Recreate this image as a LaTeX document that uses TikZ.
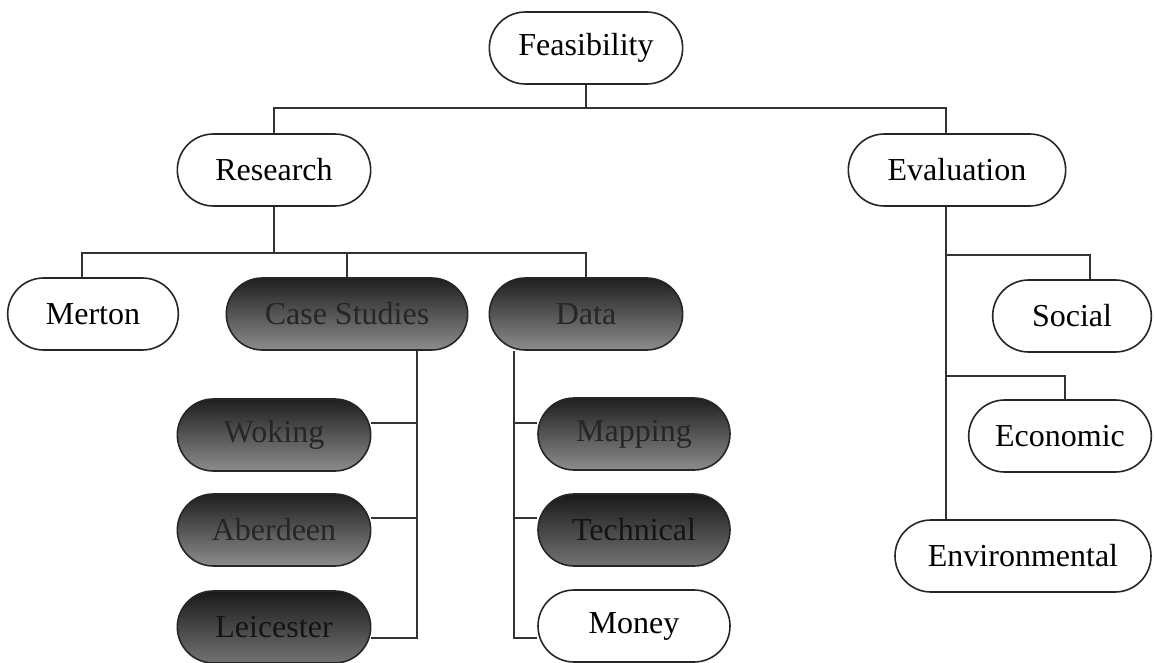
\documentclass[tikz,border=0pt]{standalone}
\usepackage{fontspec}
\setmainfont{Liberation Serif}
\begin{document}
\begin{tikzpicture}[x=0.75pt,y=-0.75pt,
  wire/.style={draw=black!80,line width=1.3pt},
  pill/.style={draw=black!85,line width=1.2pt,rounded corners=27pt,minimum height=54pt,
    inner sep=0pt,font=\fontsize{24}{28}\selectfont,fill=white},
  darkpill/.style={pill,top color=black!88,middle color=black!72,bottom color=black!45,text=black!85},
  darkerpill/.style={pill,top color=black!90,middle color=black!78,bottom color=black!55,text=black!92}]
\useasboundingbox (0,0) rectangle (1154,663);

% nodes
\node[pill,minimum width=145pt] (feas) at (586,48) {Feasibility};
\node[pill,minimum width=145pt] (res) at (274,170) {Research};
\node[pill,minimum width=163pt] (eval) at (957,170) {Evaluation};
\node[pill,minimum width=128pt] (merton) at (93,314) {Merton};
\node[darkpill,minimum width=181pt] (case) at (347,314) {Case Studies};
\node[darkpill,minimum width=145pt] (data) at (586,314) {Data};
\node[darkpill,minimum width=145pt] (wok) at (274,435) {Woking};
\node[darkpill,minimum width=145pt] (aber) at (274,530) {Aberdeen};
\node[darkerpill,minimum width=145pt] (leic) at (274,627) {Leicester};
\node[darkpill,minimum width=144pt] (map) at (634,434) {Mapping};
\node[darkerpill,minimum width=144pt] (tech) at (634,530) {Technical};
\node[pill,minimum width=144pt] (money) at (634,626) {Money};
\node[pill,minimum width=119pt] (social) at (1072,316) {Social};
\node[pill,minimum width=137pt] (econ) at (1060,436) {Economic};
\node[pill,minimum width=192pt] (env) at (1023,556) {Environmental};

% junction coordinates
\coordinate (t1) at (274,108);
\coordinate (t2) at (946,108);
\coordinate (r1) at (82,253);
\coordinate (r2) at (586,253);
\coordinate (r3) at (347,253);
\coordinate (cs) at (417,0);
\coordinate (ds) at (514,0);
\coordinate (es) at (946,0);
\coordinate (s1) at (946,255);
\coordinate (s2) at (1090,255);
\coordinate (k1) at (946,376);
\coordinate (k2) at (1065,376);

% top level
\draw[wire] (feas.south) -- (feas.south |- t1);
\draw[wire] (res.north) -- (t1) -- (t2) -- (t2 |- eval.north);
% research level
\draw[wire] (res.south) -- (res.south |- r1);
\draw[wire] (r1 |- merton.north) -- (r1) -- (r2) -- (data.north);
\draw[wire] (r3) -- (case.north);
% case studies
\draw[wire] (cs |- case.south) -- ([yshift=-8.5pt]leic.east -| cs) -- ([yshift=-8.5pt]leic.east);
\draw[wire] ([yshift=9pt]wok.east) -- ([yshift=9pt]wok.east -| cs);
\draw[wire] ([yshift=9pt]aber.east) -- ([yshift=9pt]aber.east -| cs);
% data
\draw[wire] (ds |- data.south) -- ([yshift=-9pt]money.west -| ds) -- ([yshift=-9pt]money.west);
\draw[wire] ([yshift=8.5pt]map.west) -- ([yshift=8.5pt]map.west -| ds);
\draw[wire] ([yshift=9pt]tech.west) -- ([yshift=9pt]tech.west -| ds);
% evaluation
\draw[wire] (es |- eval.south) -- (es |- env.north);
\draw[wire] (s1) -- (s2) -- (s2 |- social.north);
\draw[wire] (k1) -- (k2) -- (k2 |- econ.north);
\end{tikzpicture}
\end{document}
